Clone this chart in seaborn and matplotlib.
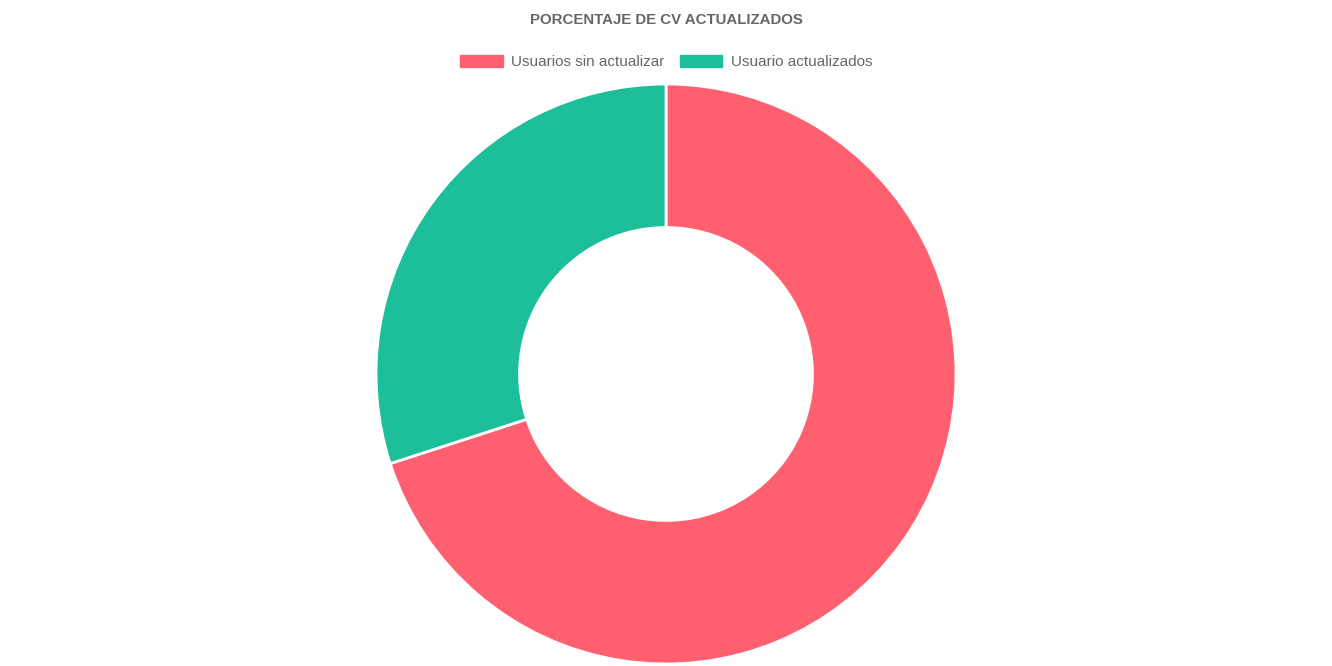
import matplotlib
matplotlib.use("Agg")
import matplotlib.pyplot as plt
from matplotlib.patches import Patch
import seaborn as sns

# datos del gráfico
etiquetas = ["Usuarios sin actualizar", "Usuario actualizados"]
valores = [70, 30]
colores = ["#FF6070", "#1DBE9A"]
titulo = "PORCENTAJE DE CV ACTUALIZADOS"

sns.set_theme(style="white")
plt.rcParams['font.family'] = ['Liberation Sans', 'DejaVu Sans']

fig = plt.figure(figsize=(13.32, 6.66), dpi=100)
ax = fig.add_axes([376 / 1332, 2 / 666, 580 / 1332, 580 / 666])

ax.pie(valores, colors=colores, startangle=90, counterclock=False, radius=1,
       wedgeprops=dict(width=0.495, edgecolor="white", linewidth=2))
ax.set_xlim(-1, 1)
ax.set_ylim(-1, 1)
ax.set_aspect("equal")
ax.axis("off")

fig.text(0.5, 1 - 20 / 666, titulo, ha="center", va="center",
         fontsize=10.8, fontweight="bold", color="#666666")

handles = [Patch(facecolor=c, edgecolor=c) for c in colores]
fig.legend(handles, etiquetas, loc="center", bbox_to_anchor=(0.5, 1 - 62 / 666),
           ncol=2, frameon=False, fontsize=11, labelcolor="#666666",
           handlelength=2.8, handleheight=0.9, handletextpad=0.55, columnspacing=1.0)

fig.savefig("out.png", dpi=100)
